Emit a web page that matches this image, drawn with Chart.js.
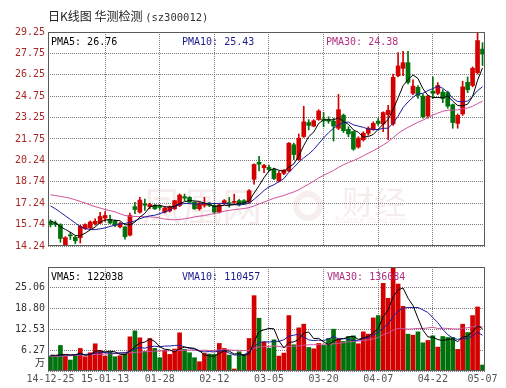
<!DOCTYPE html>
<html>
<head>
<meta charset="utf-8">
<script src="https://cdn.jsdelivr.net/npm/chart.js@4.4.1/dist/chart.umd.min.js"></script>
<style>
  html, body { margin: 0; padding: 0; background: #fff; }
  #wrap { position: relative; width: 506px; height: 388px; overflow: hidden; }
  #priceBox { position: absolute; left: 0; top: 0; width: 506px; height: 255px; }
  #volBox { position: absolute; left: 0; top: 255px; width: 506px; height: 133px; }
  .txt { position: absolute; white-space: nowrap; font: 10px "DejaVu Sans Mono", monospace; line-height: 12px; }
  #title { left: 48px; top: 9px; font: 12px "Noto Sans CJK SC", sans-serif; color: #222; line-height: 14px; }
  #title span { font: 10.5px "DejaVu Sans Mono", monospace; color: #333; }
</style>
</head>
<body>
<div id="wrap">
  <div id="priceBox"><canvas id="priceChart" width="506" height="255"></canvas></div>
  <div id="volBox"><canvas id="volChart" width="506" height="133"></canvas></div>
  <div id="title" class="txt">日K线图 华测检测 <span>(sz300012)</span></div>
  <div id="pl0" class="txt" style="left:51px;top:36px;color:#000">PMA5: 26.76</div>
  <div id="pl1" class="txt" style="left:182px;top:36px;color:#1c1c8c">PMA10: 25.43</div>
  <div id="pl2" class="txt" style="left:326px;top:36px;color:#b03080">PMA30: 24.38</div>
  <div id="vl0" class="txt" style="left:51px;top:271px;color:#000">VMA5: 122038</div>
  <div id="vl1" class="txt" style="left:182px;top:271px;color:#1c1c8c">VMA10: 110457</div>
  <div id="vl2" class="txt" style="left:327px;top:271px;color:#b03080">VMA30: 136084</div>
</div>
<script>
// x ticks: candle index -> date text
const tickIdx = [0, 11, 22, 33, 44, 55, 66, 77, 87];
const tickText = ["14-12-25", "15-01-13", "01-28", "02-12", "03-05", "03-20", "04-07", "04-22", "05-07"];

const priceTicks = [14.24, 15.74, 17.24, 18.74, 20.24, 21.75, 23.25, 24.75, 26.25, 27.75, 29.25];
const priceTickText = ["14.24", "15.74", "17.24", "18.74", "20.24", "21.75", "23.25", "24.75", "26.25", "27.75", "29.25"];

// volume in 万
const volTicks = [0, 6.27, 12.53, 18.80, 25.06, 31.33];
const volTickText = ["", "6.27", "12.53", "18.80", "25.06", ""];
const volUnit = "万";

// daily candles, 88 trading days
const open = [
  15.97, 15.85, 15.74, 14.31, 15.00, 14.85, 14.82, 15.46, 15.51, 15.81,
  15.85, 16.20, 16.11, 15.97, 15.58, 15.58, 15.00, 17.00, 16.61, 17.20,
  17.00, 17.10, 17.00, 16.62, 16.70, 16.85, 17.08, 17.70, 17.65, 17.31,
  16.85, 17.10, 17.20, 17.08, 16.62, 17.20, 17.28, 17.30, 17.42, 17.42,
  17.31, 18.92, 20.12, 19.73, 19.75, 19.61, 18.80, 19.33, 19.50, 21.34,
  20.30, 21.92, 22.90, 22.65, 23.11, 23.15, 23.10, 23.00, 22.50, 23.41,
  22.42, 22.26, 21.18, 21.69, 22.15, 22.42, 23.00, 22.80, 23.46, 22.80,
  26.18, 26.70, 27.10, 24.95, 25.37, 24.75, 23.35, 25.10, 24.95, 25.03,
  25.00, 24.15, 22.84, 23.50, 25.72, 25.50, 26.40, 28.05
];
const high = [
  16.08, 16.00, 15.80, 14.90, 15.20, 14.95, 15.70, 15.80, 16.00, 16.15,
  16.61, 16.66, 16.40, 16.05, 15.90, 15.60, 16.55, 17.30, 17.65, 17.53,
  17.25, 17.15, 17.10, 17.00, 17.05, 17.45, 17.90, 17.88, 17.70, 17.35,
  17.30, 17.65, 17.30, 17.15, 17.20, 17.50, 17.65, 17.88, 17.50, 17.50,
  18.20, 20.00, 20.53, 19.96, 19.90, 19.70, 19.50, 19.60, 21.50, 21.45,
  22.10, 24.04, 23.10, 23.10, 23.80, 23.60, 23.30, 23.20, 24.87, 23.50,
  22.60, 22.30, 21.90, 22.25, 22.60, 22.95, 23.20, 23.65, 24.10, 26.30,
  27.80, 27.90, 27.90, 25.90, 25.50, 24.90, 24.80, 26.10, 25.70, 25.20,
  25.10, 24.20, 23.50, 25.80, 26.10, 26.80, 29.25, 28.50
];
const low = [
  15.57, 15.60, 14.50, 14.24, 14.70, 14.40, 14.45, 15.40, 15.45, 15.70,
  15.80, 15.97, 15.80, 15.60, 15.50, 14.72, 14.95, 16.50, 16.55, 16.73,
  16.85, 16.80, 16.80, 16.55, 16.62, 16.80, 17.00, 17.42, 17.25, 16.80,
  16.74, 16.96, 17.00, 16.55, 16.55, 17.15, 16.96, 17.20, 17.05, 17.15,
  17.25, 18.58, 19.50, 19.38, 19.50, 18.90, 18.74, 19.25, 19.45, 20.30,
  20.25, 21.85, 22.38, 22.60, 23.05, 22.60, 22.85, 21.60, 22.40, 22.20,
  21.90, 20.95, 21.10, 21.60, 22.00, 22.35, 22.70, 22.26, 21.70, 22.70,
  26.10, 26.18, 25.60, 24.85, 24.60, 23.20, 23.20, 24.60, 24.85, 24.30,
  23.90, 22.50, 22.50, 23.40, 25.00, 25.40, 26.30, 26.90
];
const close = [
  15.74, 15.76, 14.77, 14.82, 14.95, 14.60, 15.62, 15.74, 15.92, 15.97,
  16.31, 16.38, 15.85, 15.70, 15.81, 14.89, 16.38, 16.80, 17.46, 17.10,
  17.15, 16.85, 16.95, 16.90, 17.00, 17.42, 17.81, 17.60, 17.31, 16.85,
  17.26, 17.20, 17.10, 16.62, 17.12, 17.42, 17.20, 17.35, 17.12, 17.20,
  18.11, 19.96, 19.98, 19.89, 19.60, 18.97, 19.33, 19.56, 21.45, 20.65,
  21.80, 22.95, 22.70, 23.02, 23.71, 23.05, 23.00, 22.65, 23.80, 22.33,
  22.10, 21.04, 21.80, 22.15, 22.50, 22.84, 22.84, 23.60, 23.76, 26.07,
  26.87, 27.10, 25.72, 25.45, 24.80, 23.30, 24.75, 24.95, 25.50, 24.60,
  24.05, 22.90, 23.40, 25.40, 25.20, 26.70, 28.65, 27.70
];
const volume = [
  4.5, 4.3, 7.7, 4.4, 3.3, 4.8, 6.8, 4.3, 5.5, 8.2,
  6.0, 4.5, 5.8, 4.3, 4.6, 5.2, 10.3, 12.1, 10.0, 5.9,
  9.8, 6.8, 4.0, 6.3, 5.0, 6.6, 11.5, 6.5, 5.5, 4.0,
  2.8, 5.3, 5.1, 5.0, 8.3, 6.8, 4.8, 0.6, 5.8, 5.0,
  9.8, 22.7, 15.9, 8.7, 6.9, 9.4, 4.5, 5.4, 16.7, 7.9,
  13.0, 14.1, 7.1, 6.7, 8.3, 7.7, 9.8, 12.6, 9.6, 8.9,
  10.4, 10.6, 8.2, 11.8, 11.1, 16.0, 16.7, 26.4, 21.9, 31.0,
  26.2, 19.5, 11.1, 10.8, 11.8, 8.5, 9.2, 10.6, 7.2, 10.4,
  10.1, 10.1, 6.5, 14.1, 11.6, 16.7, 19.3, 1.8
];

const pma5Lead = [16.00, 15.85, 15.60, 15.40];
const pma10Lead = [17.05, 16.85, 16.60, 16.35, 16.10, 15.85, 15.60, 15.45, 15.40];
const pma30Lead = [
  17.83, 17.78, 17.72, 17.66, 17.58, 17.48, 17.37, 17.25, 17.12, 17.00,
  16.90, 16.80, 16.72, 16.63, 16.50, 16.38, 16.33, 16.31, 16.31, 16.29,
  16.28, 16.26, 16.20, 16.13, 16.09, 16.08, 16.10, 16.15, 16.20
];
const vma5Lead = [4.8, 4.7, 4.9, 5.0];
const vma10Lead = [4.6, 4.6, 4.7, 4.8, 4.8, 4.9, 5.0, 5.0, 5.1];
const vma30Lead = [
  4.4, 4.4, 4.5, 4.6, 4.6, 4.7, 4.8, 4.8, 4.9, 5.0,
  5.0, 5.1, 5.2, 5.2, 5.3, 5.4, 5.5, 5.6, 5.7, 5.8,
  5.9, 6.0, 6.0, 6.1, 6.1, 6.2, 6.2, 6.2, 6.3
];

const UP = "#d40000", DOWN = "#00720c";
const C_MA5 = "#000000", C_MA10 = "#1c1ca0", C_MA30 = "#d0509a";
const GRID = "#7a7a7a", FRAME = "#5a5a5a";
const monoFont = { family: '"DejaVu Sans Mono", monospace', size: 10 };

const candleColor = close.map((c, i) => (c >= open[i] ? UP : DOWN));

function movingAvg(vals, n, lead) {
  return vals.map((v, i) => {
    if (i < n - 1) return lead[i];
    let s = 0;
    for (let k = i - n + 1; k <= i; k++) s += vals[k];
    return s / n;
  });
}

const pts = arr => arr.map((y, i) => ({ x: i, y }));

function maLine(data, color) {
  return {
    type: "line", data: pts(data), borderColor: color, borderWidth: 1,
    pointRadius: 0, tension: 0, order: 0
  };
}

// frame + optional watermark / unit label
const framePlugin = {
  id: "frame",
  beforeDatasetsDraw(chart) {
    const wm = chart.options.plugins.frame.watermark;
    if (!wm) return;
    const { ctx } = chart;
    ctx.save();
    ctx.fillStyle = "rgba(205,150,150,0.18)";
    ctx.font = '40px "Noto Sans CJK SC", sans-serif';
    ctx.textBaseline = "middle";
    ctx.fillText("凤凰网", 142, 206);
    ctx.font = '32px "Noto Sans CJK SC", sans-serif';
    ctx.fillText("财经", 342, 202);
    ctx.lineWidth = 6;
    ctx.strokeStyle = "rgba(205,150,150,0.16)";
    ctx.beginPath();
    ctx.arc(308, 206, 12, 0, Math.PI * 2);
    ctx.stroke();
    ctx.font = '8px "DejaVu Sans", sans-serif';
    ctx.fillText("finance.ifeng.com", 335, 221);
    ctx.restore();
  },
  afterDraw(chart) {
    const { ctx, chartArea: a } = chart;
    ctx.save();
    ctx.strokeStyle = FRAME;
    ctx.lineWidth = 1;
    ctx.strokeRect(Math.round(a.left) + 0.5, Math.round(a.top) + 0.5,
      Math.round(a.right - a.left) - 1, Math.round(a.bottom - a.top) - 1);
    const unit = chart.options.plugins.frame.unit;
    if (unit) {
      const y0 = chart.scales.y.getPixelForValue(0);
      ctx.fillStyle = "#333";
      ctx.font = '10px "Noto Sans CJK SC", sans-serif';
      ctx.textAlign = "right";
      ctx.textBaseline = "middle";
      ctx.fillText(unit, a.left - 3, y0 - 9);
    }
    ctx.restore();
  }
};

function xAxis(showLabels) {
  return {
    type: "linear", min: -0.5, max: 87.5, offset: false,
    afterBuildTicks: s => { s.ticks = tickIdx.map(v => ({ value: v })); },
    afterFit: s => { s.height = showLabels ? 17 : 0; },
    grid: {
      offset: false, drawTicks: false,
      color: c => (c.tick && (c.tick.value === tickIdx[0] || c.tick.value === tickIdx[tickIdx.length - 1])) ? "rgba(0,0,0,0)" : GRID
    },
    border: { display: false, dash: [1, 1] },
    ticks: {
      display: showLabels, autoSkip: false, maxRotation: 0, padding: 2,
      color: "#555", font: monoFont, callback: (v, i) => tickText[i]
    }
  };
}

function yAxis(min, max, values, texts, color) {
  return {
    min, max,
    afterBuildTicks: s => { s.ticks = values.map(v => ({ value: v })); },
    afterFit: s => { s.width = 48; },
    grid: { drawTicks: false, color: GRID },
    border: { display: false, dash: [1, 1] },
    ticks: { autoSkip: false, padding: 3, color, font: monoFont, callback: (v, i) => texts[i] }
  };
}

const baseOpts = {
  responsive: false, animation: false, events: [],
  datasets: { bar: { grouped: false } }
};

new Chart(document.getElementById("priceChart"), {
  type: "bar",
  data: {
    datasets: [
      maLine(movingAvg(close, 5, pma5Lead), C_MA5),
      maLine(movingAvg(close, 10, pma10Lead), C_MA10),
      maLine(movingAvg(close, 30, pma30Lead), C_MA30),
      {
        data: open.map((o, i) => ({ x: i, y: [o, close[i]] })),
        backgroundColor: candleColor, barThickness: 4, minBarLength: 1, order: 1
      },
      {
        data: low.map((l, i) => ({ x: i, y: [l, high[i]] })),
        backgroundColor: candleColor, barThickness: 1, order: 2
      }
    ]
  },
  options: {
    ...baseOpts,
    layout: { padding: { left: 0, right: 21, top: 32, bottom: 6 } },
    scales: {
      x: xAxis(false),
      y: yAxis(14.24, 29.25, priceTicks, priceTickText, "#a82828")
    },
    plugins: { legend: { display: false }, tooltip: { enabled: false }, frame: { watermark: true } }
  },
  plugins: [framePlugin]
});

new Chart(document.getElementById("volChart"), {
  type: "bar",
  data: {
    datasets: [
      maLine(movingAvg(volume, 5, vma5Lead), C_MA5),
      maLine(movingAvg(volume, 10, vma10Lead), C_MA10),
      maLine(movingAvg(volume, 30, vma30Lead), C_MA30),
      {
        data: pts(volume),
        backgroundColor: candleColor, barThickness: 4, order: 1
      }
    ]
  },
  options: {
    ...baseOpts,
    layout: { padding: { left: 0, right: 21, top: 12, bottom: 0 } },
    scales: {
      x: xAxis(true),
      y: yAxis(0, 31.33, volTicks, volTickText, "#333")
    },
    plugins: { legend: { display: false }, tooltip: { enabled: false }, frame: { unit: volUnit } }
  },
  plugins: [framePlugin]
});
</script>
</body>
</html>
